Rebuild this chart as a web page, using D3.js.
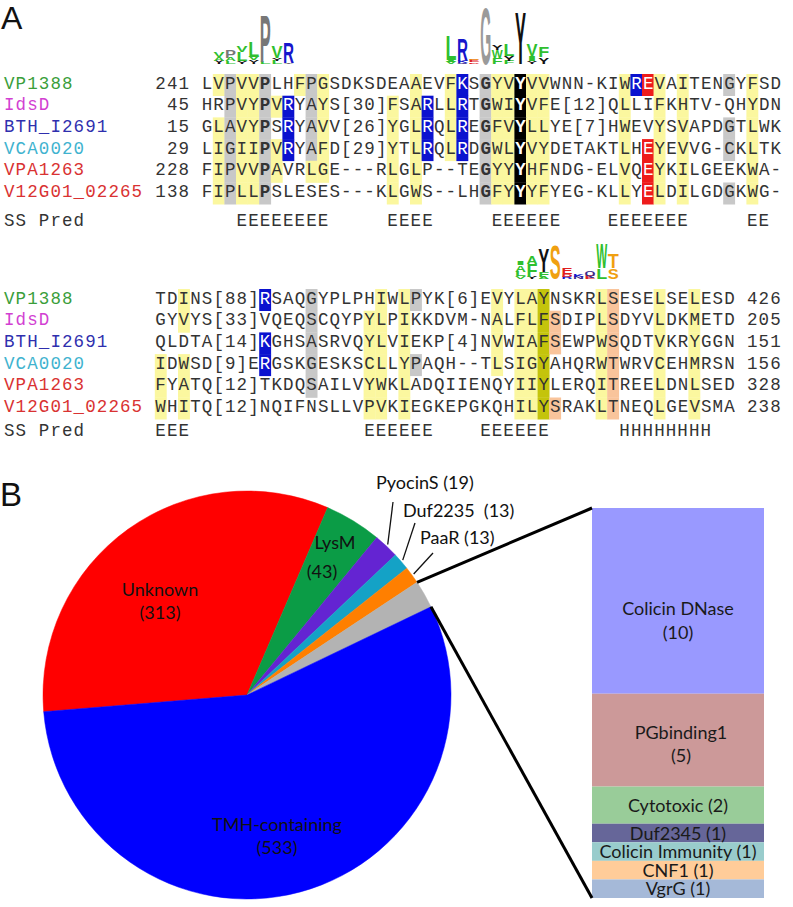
<!DOCTYPE html>
<html><head><meta charset="utf-8">
<script src="https://cdn.jsdelivr.net/npm/d3@7"></script>
<style>body{margin:0;background:#fff}</style>
</head><body><svg id="c" width="793" height="907" xmlns="http://www.w3.org/2000/svg"></svg>
<script>
// ---------------- DATA ----------------
const seqNames = ["VP1388", "IdsD", "BTH_I2691", "VCA0020", "VPA1263", "V12G01_02265"];

const block1Start = [241, 45, 15, 29, 228, 138];
const block1Seqs = [
  "LVPVVPLHFPGSDKSDEAAEVFKSGYVYVVWNN-KIWREVAITENGYFSD",
  "HRPVYPVRYAYS[30]FSARLLRTGWIYVFE[12]QLLIFKHTV-QHYDN",
  "GLAVYPSRYAVV[26]YGLRQLREGFVYLLYE[7]HWEVYSVAPDGTLWK",
  "LIGIIPVRYAFD[29]YTLRQLRDGWLYVYDETAKTLHEYEVVG-CKLTK",
  "FIPVVPAVRLGE---RLGLP--TEGYYYHFNDG-ELVQEYKILGEEKWA-",
  "FIPLLPSLESES---KLGWS--LHGFYYYFYEG-KLLYELDILGDGKWG-"
];
// conservation class per residue: y=hydrophobic, g=small, G=conserved G/P, b=basic, r=acidic, k=invariant
const block1Marks = [
  ".ygyyG..yg" + "y.......y." + ".yb.Gyykyy" + "......ybry" + ".y...g.y..",
  "..gyyGyb.g" + "y.....y.yb" + ".yb.Gyykyy" + "......y..y" + ".y.....y..",
  ".ygyyG.b.g" + "y.....y.yb" + ".yb.Gyykyy" + "......y..y" + ".y...g.y..",
  ".ygyyGyb.g" + "y.....y.yb" + ".yb.Gyykyy" + "......y.ry" + ".y...g.y..",
  ".ygyyGy..y" + "y.....y.y." + "....Gyykyy" + "......y.ry" + ".y.....y..",
  ".ygyyG...." + "......y.y." + "....Gyykyy" + "......y.ry" + ".y...g.y.."
];
const block1SS = "   EEEEEEEE     EEEE     EEEEEE    EEEEEEE     EE ";

const block2Seqs = [
  "TDINS[88]RSAQGYPLPHIWLPYK[6]EVYLAYNSKRLSESELSELESD",
  "GYVYS[33]VQEQSCQYPYLPIKKDVM-NALFLFSDIPLSDYVLDKMETD",
  "QLDTA[14]KGHSASRVQYLVIEKP[4]NVWIAFSEWPWSQDTVKRYGGN",
  "IDWSD[9]ERGSKGESKSCLLYPAQH--TLSIGYAHQRWTWRVCEHMRSN",
  "FYATQ[12]TKDQSAILVYWKLADQIIENQYIIYLERQITREELDNLSED",
  "WHITQ[12]NQIFNSLLVPVKIEGKEPGKQHILYSRAKLTNEQLGEVSMA"
];
const block2End = [426, 205, 151, 156, 328, 238];
const block2Marks = [
  "..y......b" + "...g.....y" + ".yg......y" + ".yyo....ys" + "...y..y...",
  "..y......." + "...g....yy" + ".y.......y" + ".yyos...ys" + "...y..y...",
  ".........b" + "...g....yy" + ".y.......y" + ".yyos...ys" + "...y..y...",
  "y.y......b" + "...g....yy" + ".yg......y" + ".yyo....ys" + "...y..y...",
  "y.y......." + "...g....yy" + ".y........" + ".yyo....ys" + "...y..y...",
  "y.y......." + "........yy" + ".y........" + ".yyos...ys" + "...y..y..."
];
const block2SS = "EEE               EEEEEE    EEEEEE      HHHHHHHH  ";

// sequence logos: column index in block, stack bottom->top as [residue, bits]
const logo1 = [
  {col: 1, stack: [["Y", 0.25], ["A", 0.3], ["V", 0.35]]},
  {col: 2, stack: [["L", 0.2], ["A", 0.25], ["P", 0.6]]},
  {col: 3, stack: [["Y", 0.2], ["L", 0.7], ["V", 0.45]]},
  {col: 4, stack: [["Y", 0.3], ["V", 0.25], ["L", 1.2]]},
  {col: 5, stack: [["L", 0.15], ["P", 3.6]]},
  {col: 6, stack: [["L", 0.25], ["Y", 0.2], ["V", 0.9]]},
  {col: 7, stack: [["Y", 0.1], ["R", 1.6]]}
];
const logo2 = [
  {col: 21, stack: [["V", 0.15], ["I", 0.15], ["L", 1.9]]},
  {col: 22, stack: [["Q", 0.1], ["K", 0.15], ["R", 1.7]]},
  {col: 23, stack: [["D", 0.12], ["E", 0.15], ["S", 0.12]]},
  {col: 24, stack: [["G", 4.3]]},
  {col: 25, stack: [["F", 0.45], ["W", 0.6], ["Y", 0.35]]},
  {col: 26, stack: [["F", 0.25], ["Y", 0.35], ["L", 0.9]]},
  {col: 27, stack: [["Y", 4.0]]},
  {col: 28, stack: [["Y", 0.2], ["I", 0.4], ["V", 0.9]]},
  {col: 29, stack: [["Y", 0.5], ["F", 0.8]]}
];
const logo3 = [
  {col: 31, stack: [["V", 0.2], ["L", 0.35], ["A", 0.5], ["I", 0.3]]},
  {col: 32, stack: [["Y", 0.15], ["F", 1.0], ["A", 0.6]]},
  {col: 33, stack: [["A", 0.15], ["F", 0.4], ["Y", 1.8]]},
  {col: 34, stack: [["S", 2.6]]},
  {col: 35, stack: [["R", 0.15], ["D", 0.2], ["E", 0.5]]},
  {col: 36, stack: [["N", 0.15], ["K", 0.2]]},
  {col: 37, stack: [["E", 0.25], ["Q", 0.35]]},
  {col: 38, stack: [["L", 0.8], ["W", 1.9]]},
  {col: 39, stack: [["S", 0.8], ["T", 1.1]]}
];

const pieCategories = ["Unknown", "LysM", "PyocinS", "Duf2235", "PaaR", "Other", "TMH-containing"];
const pieCounts = [313, 43, 19, 13, 13, 21, 533];

const barCategories = ["Colicin DNase", "PGbinding1", "Cytotoxic", "Duf2345", "Colicin Immunity", "CNF1", "VgrG"];
const barCounts = [10, 5, 2, 1, 1, 1, 1];

// ---------------- STYLE / LAYOUT ----------------
const nameColors = ["#3a9e3a", "#d23fd2", "#2f2fae", "#3fb3cf", "#d93232", "#d93232"];
const markFill = {y: "#fbf79f", g: "#c8c8c8", G: "#c8c8c8", b: "#0b12cf", r: "#ee1b1b", k: "#000000", o: "#c4c40c", s: "#f9c49b"};
const whiteText = new Set(["b", "r", "k"]);
const boldText = new Set(["G", "k"]);
const logoColor = {A: "#2fbf2f", V: "#2fbf2f", L: "#2fbf2f", I: "#2fbf2f", F: "#2fbf2f", W: "#2fbf2f", M: "#2fbf2f",
  Y: "#111111", P: "#777777", G: "#9a9a9a", R: "#1616cc", K: "#1616cc", E: "#e02020", D: "#e02020",
  S: "#f0a010", T: "#f0a010", Q: "#3a2a8a", N: "#3a2a8a"};
const pieColors = ["#ff0000", "#0b9c46", "#6424d2", "#14a2c6", "#ff7f00", "#b3b3b3", "#0000ff"];
const barColors = ["#9999ff", "#cc9999", "#99cc99", "#666699", "#99cccc", "#ffcc99", "#a5b9d8"];

const svg = d3.select("#c");
const cw = 11.6, gx = 4;
const colX = c => gx + c * cw;
const mono = "'Liberation Mono', 'DejaVu Sans Mono', monospace";
const sans = "Lato, 'Open Sans', sans-serif";
const rowH = 21.7;

function drawBlock(cfg) {
  const g = svg.append("g");
  cfg.seqs.forEach((seq, r) => {
    const by = cfg.y0 + r * rowH;
    const cells = seq.split("").map((ch, i) => ({ch, i, m: cfg.marks[r][i]}));
    g.selectAll(null).data(cells.filter(d => d.m !== "."))
      .join("rect")
      .attr("x", d => colX(cfg.seqCol + d.i))
      .attr("y", by - 14.5)
      .attr("width", cw + 0.3)
      .attr("height", rowH + 0.3)
      .attr("fill", d => markFill[d.m]);
    g.append("text").attr("x", gx).attr("y", by).attr("font-family", mono).attr("font-size", 17.5)
      .attr("letter-spacing", 1.1).attr("fill", nameColors[r]).text(seqNames[r]);
    if (cfg.start) {
      const s = String(cfg.start[r]);
      g.append("text").attr("x", colX(cfg.seqCol - 1 - s.length) + 0.55).attr("y", by)
        .attr("font-family", mono).attr("font-size", 17.5).attr("letter-spacing", 1.1)
        .attr("fill", "#333").text(s);
    }
    if (cfg.end) {
      g.append("text").attr("x", colX(cfg.seqCol + seq.length + 1) + 0.55).attr("y", by)
        .attr("font-family", mono).attr("font-size", 17.5).attr("letter-spacing", 1.1)
        .attr("fill", "#333").text(String(cfg.end[r]));
    }
    const t = g.append("text").attr("x", colX(cfg.seqCol) + 0.55).attr("y", by)
      .attr("font-family", mono).attr("font-size", 17.5).attr("letter-spacing", 1.1).attr("fill", "#333");
    t.selectAll("tspan").data(cells).join("tspan")
      .attr("fill", d => whiteText.has(d.m) ? "#fff" : null)
      .attr("font-weight", d => boldText.has(d.m) ? "bold" : null)
      .text(d => d.ch);
  });
  g.append("text").attr("x", gx).attr("y", cfg.ssY).attr("font-family", mono).attr("font-size", 17.5)
    .attr("letter-spacing", 1.1).attr("fill", "#333").text("SS");
  g.append("text").attr("x", colX(3)).attr("y", cfg.ssY).attr("font-family", mono).attr("font-size", 17.5)
    .attr("letter-spacing", 1.1).attr("fill", "#333").text("Pred");
  const re = /[EH]+/g; let m;
  while ((m = re.exec(cfg.ss)) !== null) {
    g.append("text").attr("x", colX(cfg.seqCol + m.index) + 0.55).attr("y", cfg.ssY)
      .attr("font-family", mono).attr("font-size", 17.5).attr("letter-spacing", 1.1)
      .attr("fill", "#333").text(m[0]);
  }
}

const bitScale = d3.scaleLinear().domain([0, 4.32]).range([0, 57]);
function drawLogo(logo, seqCol, baseY) {
  const g = svg.append("g");
  logo.forEach(c => {
    let y = baseY;
    c.stack.forEach(([res, bits]) => {
      const h = bitScale(bits);
      const t = g.append("text").attr("x", 0).attr("y", 0)
        .attr("font-family", "'Liberation Sans', Arial, sans-serif").attr("font-weight", "bold")
        .attr("font-size", 100).attr("fill", logoColor[res] || "#333").text(res);
      const adv = t.node().getComputedTextLength();
      const sx = (cw - 0.6) / adv, sy = h / 71.6;
      t.attr("transform", `translate(${colX(seqCol + c.col) + 0.6},${y}) scale(${sx},${sy})`);
      y -= h;
    });
  });
}

// Panel letters
svg.append("text").attr("x", 1).attr("y", 29).attr("font-family", "'Liberation Sans', Arial, sans-serif")
  .attr("font-size", 32).attr("fill", "#111").text("A");
svg.append("text").attr("x", 0).attr("y", 506).attr("font-family", "'Liberation Sans', Arial, sans-serif")
  .attr("font-size", 33).attr("fill", "#111").text("B");

drawLogo(logo1, 17, 64);
drawLogo(logo2, 17, 64);
drawBlock({seqs: block1Seqs, marks: block1Marks, start: block1Start, seqCol: 17, y0: 88.5, ss: block1SS, ssY: 226});
drawLogo(logo3, 13, 279);
drawBlock({seqs: block2Seqs, marks: block2Marks, end: block2End, seqCol: 13, y0: 303.5, ss: block2SS, ssY: 436});

// ---------------- PIE ----------------
const cx = 247, cy = 695, R = 204;
const a0 = -94.7 * Math.PI / 180;
const pie = d3.pie().sort(null).value(d => d).startAngle(a0).endAngle(a0 + 2 * Math.PI);
const arcs = pie(pieCounts);
const arc = d3.arc().innerRadius(0).outerRadius(R);
const pg = svg.append("g").attr("transform", `translate(${cx},${cy})`);
pg.selectAll("path").data(arcs).join("path").attr("d", arc)
  .attr("fill", (d, i) => pieColors[i]).attr("stroke", (d, i) => pieColors[i]).attr("stroke-width", 0.5);

const polar = (a, r) => [cx + r * Math.sin(a), cy - r * Math.cos(a)];

const innerLabels = [
  {i: 0, lines: ["Unknown", "(313)"], x: [160, 160], y: [596, 619]},
  {i: 1, lines: ["LysM", "(43)"], x: [335, 322], y: [549, 578]},
  {i: 6, lines: ["TMH-containing", "(533)"], x: [277, 277], y: [831, 854]}
];
innerLabels.forEach(L => {
  L.lines.forEach((s, k) => {
    svg.append("text").attr("x", L.x[k]).attr("y", L.y[k]).attr("text-anchor", "middle")
      .attr("font-family", sans).attr("font-size", 18).attr("fill", "#111").text(s);
  });
});

const outerLabels = [
  {i: 2, text: "PyocinS (" + pieCounts[2] + ")", tx: 376, ty: 489, lx: 393, ly: 502},
  {i: 3, text: "Duf2235\u00A0\u00A0(" + pieCounts[3] + ")", tx: 403, ty: 517, lx: 415, ly: 523},
  {i: 4, text: "PaaR (" + pieCounts[4] + ")", tx: 420, ty: 544, lx: 433, ly: 553}
];
outerLabels.forEach(L => {
  const a = arcs[L.i];
  const [px, py] = polar((a.startAngle + a.endAngle) / 2, R + 2);
  svg.append("line").attr("x1", px).attr("y1", py).attr("x2", L.lx).attr("y2", L.ly)
    .attr("stroke", "#111").attr("stroke-width", 1.3);
  svg.append("text").attr("x", L.tx).attr("y", L.ty).attr("font-family", sans).attr("font-size", 18)
    .attr("fill", "#111").text(L.text);
});

// ---------------- STACKED BAR ----------------
const barX0 = 592, barX1 = 764;
const yBar = d3.scaleLinear().domain([0, d3.sum(barCounts)]).range([508, 898]);
const cum = [0, ...d3.cumsum(barCounts)];
const segs = barCategories.map((c, i) => ({c, v: barCounts[i], y0: cum[i], y1: cum[i + 1]}));
svg.append("g").selectAll("rect").data(segs).join("rect")
  .attr("x", barX0).attr("width", barX1 - barX0)
  .attr("y", d => yBar(d.y0)).attr("height", d => yBar(d.y1) - yBar(d.y0))
  .attr("fill", (d, i) => barColors[i]);

const other = arcs[5];
const p1 = polar(other.startAngle, R), p2 = polar(other.endAngle, R);
svg.append("line").attr("x1", p1[0]).attr("y1", p1[1]).attr("x2", barX0).attr("y2", yBar(0))
  .attr("stroke", "#000").attr("stroke-width", 3);
svg.append("line").attr("x1", p2[0]).attr("y1", p2[1]).attr("x2", barX0).attr("y2", yBar(d3.sum(barCounts)))
  .attr("stroke", "#000").attr("stroke-width", 3);

const barMid = (barX0 + barX1) / 2;
segs.forEach((d, i) => {
  const mid = (yBar(d.y0) + yBar(d.y1)) / 2;
  if (i === 0) {
    svg.append("text").attr("x", barMid).attr("y", mid + 14).attr("text-anchor", "middle")
      .attr("font-family", sans).attr("font-size", 18).attr("fill", "#1a1a1a").text(d.c);
    svg.append("text").attr("x", barMid).attr("y", mid + 38).attr("text-anchor", "middle")
      .attr("font-family", sans).attr("font-size", 18).attr("fill", "#1a1a1a").text("(" + d.v + ")");
  } else if (i === 1) {
    svg.append("text").attr("x", barMid + 3).attr("y", mid - 1).attr("text-anchor", "middle")
      .attr("font-family", sans).attr("font-size", 18).attr("fill", "#1a1a1a").text(d.c);
    svg.append("text").attr("x", barMid + 3).attr("y", mid + 22).attr("text-anchor", "middle")
      .attr("font-family", sans).attr("font-size", 18).attr("fill", "#1a1a1a").text("(" + d.v + ")");
  } else {
    svg.append("text").attr("x", barMid).attr("y", mid + 6.5).attr("text-anchor", "middle")
      .attr("font-family", sans).attr("font-size", 18).attr("fill", "#1a1a1a").text(d.c + " (" + d.v + ")");
  }
});
</script>
</body></html>
